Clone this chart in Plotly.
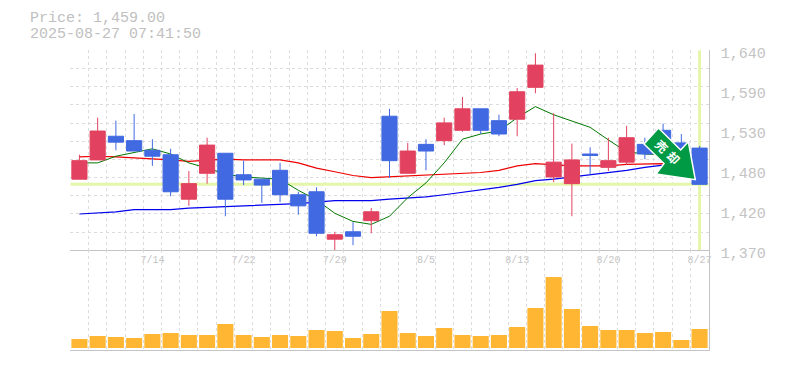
import plotly.graph_objects as go

dates = ["7/8","7/9","7/10","7/11","7/14","7/15","7/16","7/17","7/18","7/22","7/23","7/24","7/25","7/28","7/29","7/30","7/31","8/1","8/4","8/5","8/6","8/7","8/8","8/12","8/13","8/14","8/15","8/18","8/19","8/20","8/21","8/22","8/25","8/26","8/27"]
opens = [1466,1492,1524,1518,1505,1499,1439,1474,1501,1472,1466,1478,1445,1449,1385,1395,1410,1551,1474,1513,1518,1532,1561,1545,1547,1590,1469,1460,1500,1482,1489,1513,1532,1515,1508]
closes = [1491,1531,1516,1504,1497,1449,1460,1512,1439,1465,1458,1445,1430,1393,1391,1389,1422,1491,1504,1504,1542,1561,1532,1527,1584,1620,1489,1492,1498,1491,1522,1500,1505,1499,1459]
highs = [1499,1549,1545,1554,1520,1507,1477,1522,1501,1491,1466,1488,1449,1455,1395,1408,1427,1561,1515,1520,1549,1577,1561,1553,1589,1636,1555,1514,1509,1522,1538,1522,1541,1527,1511]
lows = [1466,1492,1505,1504,1484,1443,1430,1460,1416,1458,1434,1435,1418,1389,1370,1377,1393,1468,1474,1478,1512,1530,1527,1524,1524,1582,1462,1416,1472,1477,1485,1493,1499,1492,1459]
ma_short = [1488,1488,1497,1502,1507,1500,1488,1481,1473,1469,1468,1466,1451,1438,1420,1409,1405,1416,1441,1461,1488,1520,1527,1531,1549,1564,1553,1544,1536,1519,1503,1500,1499,1495,1485]
ma_mid = [1496,1497,1496,1495,1494,1492,1490,1491,1493,1492,1492,1492,1488,1481,1476,1471,1468,1469,1470,1471,1472,1473,1475,1478,1484,1487,1485,1484,1484,1484,1486,1487,1487,1485,1484]
ma_long = [1419,1420,1422,1425,1425,1425,1427,1428,1428,1429,1431,1432,1433,1435,1437,1437,1437,1439,1440,1442,1445,1448,1451,1455,1459,1464,1466,1469,1471,1475,1478,1482,1485,1488,1490]
volumes = [9,12,11,10,14,15,13,13,24,13,11,13,12,18,17,10,14,37,15,12,20,13,12,13,21,40,71,39,22,18,18,15,16,8,19]
price_now = 1459
price_ticks = [1370,1424,1478,1532,1586,1640]
price_labels = ["1,370","1,420","1,480","1,530","1,590","1,640"]
date_ticks = ["7/14","7/22","7/29","8/5","8/13","8/20","8/27"]

OFF = 8  # the page body keeps its default margin
W, H = 777, 362
L, R = 70.3, 708.7
T, M, B = 50.3, 250.3, 350.3
GREY = "#c4c4c4"
GRID = "#dcdcdc"
LABEL = "#c4c4c4"
MONO = "Liberation Mono"
def px(x): return (x-OFF)/W
def py(y): return 1-(y-OFF)/H
idx = list(range(len(dates)))
xdom = [px(L), px(R)]
pdom = [py(M), py(T)]
vdom = [py(B), py(M)]
xr = [-0.5, len(dates)-0.5]
pr = [price_ticks[0], price_ticks[-1]]

fig = go.Figure()
fig.add_trace(go.Scatter(x=xr, y=[price_now]*2, mode="lines", line=dict(color="#e4f6a9", width=3), xaxis="x", yaxis="y", hoverinfo="skip"))
fig.add_trace(go.Scatter(x=[idx[-1]]*2, y=pr, mode="lines", line=dict(color="#e4f6a9", width=3), xaxis="x", yaxis="y", hoverinfo="skip"))
fig.add_trace(go.Scatter(x=idx, y=ma_long, mode="lines", line=dict(color="#0000ee", width=1.2), xaxis="x", yaxis="y"))
fig.add_trace(go.Scatter(x=idx, y=ma_mid, mode="lines", line=dict(color="#ee0000", width=1.2), xaxis="x", yaxis="y"))
fig.add_trace(go.Scatter(x=idx, y=ma_short, mode="lines", line=dict(color="#007700", width=1), xaxis="x", yaxis="y"))
fig.add_trace(go.Candlestick(x=idx, open=opens, high=highs, low=lows, close=closes, xaxis="x3", yaxis="y3", whiskerwidth=0,
    increasing=dict(line=dict(color="#e2425f", width=1), fillcolor="#e2425f"),
    decreasing=dict(line=dict(color="#4169e1", width=1), fillcolor="#4169e1")))
fig.add_trace(go.Bar(x=idx, y=volumes, marker=dict(color="#ffb733", line=dict(width=0)), width=0.88, xaxis="x2", yaxis="y2"))

minor_x = dict(tick0=-0.5, dtick=1, showgrid=True, gridcolor=GRID, griddash="3px,3px", gridwidth=1, ticks="")
fig.update_layout(
    width=W, height=H, margin=dict(l=0, r=0, t=0, b=0, autoexpand=False), paper_bgcolor="white", plot_bgcolor="white",
    showlegend=False, boxgap=0.17, boxgroupgap=0, bargap=0.12,
    xaxis=dict(domain=xdom, range=xr, tickmode="array", tickvals=[dates.index(d) for d in date_ticks], ticktext=date_ticks,
               showgrid=False, minor=minor_x, ticks="", showline=True, linecolor=GREY, linewidth=1, automargin=False,
               tickfont=dict(family=MONO, size=10, color=LABEL), rangeslider=dict(visible=False), anchor="y", zeroline=False, fixedrange=True),
    yaxis=dict(domain=pdom, range=pr, side="right", tickmode="array", tickvals=price_ticks, ticktext=price_labels, showgrid=False, automargin=False,
               minor=dict(tick0=price_ticks[0], dtick=(pr[1]-pr[0])/11, showgrid=True, gridcolor=GRID, griddash="3px,3px", gridwidth=1, ticks=""),
               showline=True, linecolor=GREY, linewidth=1, tickfont=dict(family=MONO, size=15, color=LABEL), ticks="", anchor="x", zeroline=False, fixedrange=True,
               ticklabelstandoff=8, ticklabelshift=2),
    xaxis3=dict(domain=xdom, range=xr, overlaying="x", anchor="y3", visible=False, rangeslider=dict(visible=False), fixedrange=True, automargin=False),
    yaxis3=dict(domain=pdom, range=pr, overlaying="y", anchor="x3", visible=False, fixedrange=True, automargin=False),
    xaxis2=dict(domain=xdom, range=xr, showticklabels=False, showgrid=False, minor=minor_x, ticks="", showline=True, linecolor=GREY, linewidth=1, anchor="y2", zeroline=False, fixedrange=True, automargin=False),
    yaxis2=dict(domain=vdom, range=[-2.3, 97.7], side="right", showticklabels=False, showgrid=False, showline=True, linecolor=GREY, linewidth=1, ticks="", anchor="x2", zeroline=False, fixedrange=True, automargin=False),
    font=dict(family=MONO, color=LABEL),
)
fig.add_annotation(xref="paper", yref="paper", x=px(28), y=py(18.5), xanchor="left", yanchor="middle", showarrow=False, text="Price: 1,459.00", font=dict(family=MONO, size=15, color="#c0c0c0"))
fig.add_annotation(xref="paper", yref="paper", x=px(28), y=py(34.5), xanchor="left", yanchor="middle", showarrow=False, text="2025-08-27 07:41:50", font=dict(family=MONO, size=15, color="#c0c0c0"))

pts = [(658.5,128),(680.7,150),(688.3,141.7),(695.3,179.7),(656,174),(664,163.5),(644,144)]
path = "M " + " L ".join(f"{px(x):.5f},{py(y):.5f}" for x,y in pts) + " Z"
fig.add_shape(type="path", xref="paper", yref="paper", path=path, fillcolor="#009944", line=dict(color="white", width=1.5), layer="above")
fig.add_annotation(xref="paper", yref="paper", x=px(661.7), y=py(145.7), xanchor="center", yanchor="middle", showarrow=False, text="<b>売</b>", textangle=45, font=dict(family="Noto Sans CJK JP", size=12, color="white"))
fig.add_annotation(xref="paper", yref="paper", x=px(674), y=py(157.3), xanchor="center", yanchor="middle", showarrow=False, text="<b>却</b>", textangle=45, font=dict(family="Noto Sans CJK JP", size=12, color="white"))

fig.write_html("out.html")
